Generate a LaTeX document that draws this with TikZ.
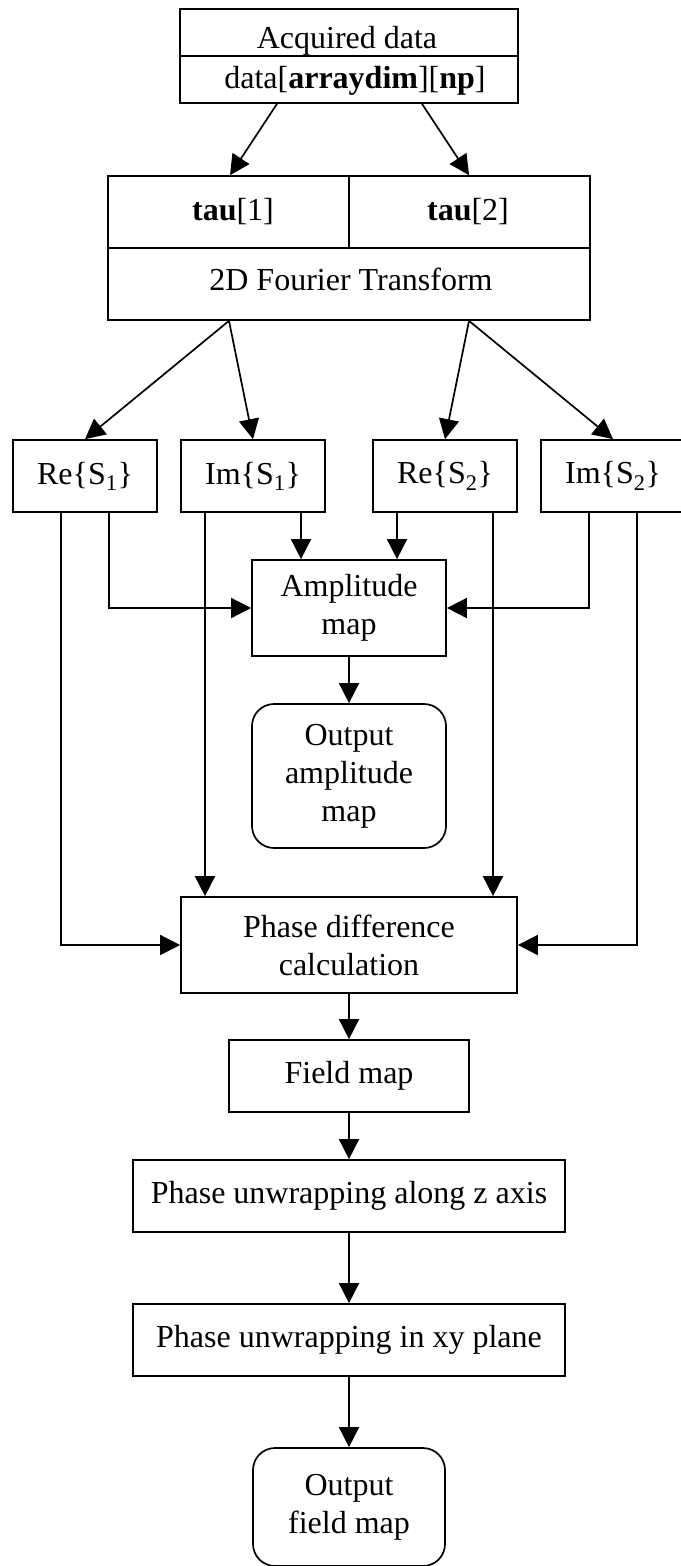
\documentclass[tikz,border=0pt]{standalone}
\usepackage{fontspec}
\setmainfont{Liberation Serif}
\usetikzlibrary{arrows.meta,calc}
\begin{document}
\begin{tikzpicture}[x=1pt,y=-1pt,
  line width=1.7pt,
  conn/.style={-{Triangle[length=20pt,width=20pt]}},
  box/.style={draw, rectangle, inner sep=0pt, align=center,
    font=\fontsize{32}{38}\selectfont},
  term/.style={box, rounded corners=22pt},
  lbl/.style={inner sep=0pt, font=\fontsize{32}{38}\selectfont}]
\useasboundingbox (0,0) rectangle (680,1566);

% header: acquired data
\node[box, minimum width=338pt, minimum height=94pt] (acq) at (349,56) {};
\draw (acq.west) -- (acq.east);
\node[lbl, anchor=base] (acqt) at (347,48) {Acquired data};
\node[lbl, anchor=base] (acqd) at (355,88) {data[\textbf{arraydim}][\textbf{np}]};

% echo times and transform
\node[box, minimum width=482pt, minimum height=144pt] (tau) at (349,248) {};
\draw (tau.west) -- (tau.east);
\draw (tau.north) -- (tau.center);
\node[lbl, anchor=base] (tau1) at (233,220) {\textbf{tau}[1]};
\node[lbl, anchor=base] (tau2) at (468,220) {\textbf{tau}[2]};
\node[lbl, anchor=base] (fft) at (351,290) {2D Fourier Transform};

\draw[conn] ([xshift=-72pt]acq.south) -- ([xshift=-119pt]tau.north);
\draw[conn] ([xshift=73pt]acq.south) -- ([xshift=120pt]tau.north);

% real and imaginary parts
\node[box, minimum width=144pt, minimum height=72pt] (re1) at (85,476) {Re\{S\textsubscript{1}\}};
\node[box, minimum width=144pt, minimum height=72pt] (im1) at (253,476) {Im\{S\textsubscript{1}\}};
\node[box, minimum width=144pt, minimum height=72pt] (re2) at (445,476) {Re\{S\textsubscript{2}\}};
\node[box, minimum width=144pt, minimum height=72pt] (im2) at (613,476) {Im\{S\textsubscript{2}\}};

\draw[conn] ([xshift=-120pt]tau.south) -- (re1.north);
\draw[conn] ([xshift=-120pt]tau.south) -- (im1.north);
\draw[conn] ([xshift=120pt]tau.south) -- (re2.north);
\draw[conn] ([xshift=120pt]tau.south) -- (im2.north);

% amplitude branch
\node[box, minimum width=194pt, minimum height=96pt] (amp) at (349,608) {Amplitude\\map};
\node[term, minimum width=194pt, minimum height=144pt] (outamp) at (349,776) {Output\\amplitude\\map};

\draw[conn] ([xshift=24pt]re1.south) |- (amp.west);
\draw[conn] ([xshift=48pt]im1.south) -- ([xshift=48pt]im1.south |- amp.north);
\draw[conn] ([xshift=-48pt]re2.south) -- ([xshift=-48pt]re2.south |- amp.north);
\draw[conn] ([xshift=-24pt]im2.south) |- (amp.east);
\draw[conn] (amp.south) -- (outamp.north);

% phase branch
\node[box, minimum width=336pt, minimum height=96pt] (phase) at (349,945) {Phase difference\\calculation};

\draw[conn] ([xshift=-24pt]re1.south) |- (phase.west);
\draw[conn] ([xshift=-48pt]im1.south) -- ([xshift=-48pt]im1.south |- phase.north);
\draw[conn] ([xshift=48pt]re2.south) -- ([xshift=48pt]re2.south |- phase.north);
\draw[conn] ([xshift=24pt]im2.south) |- (phase.east);

% unwrapping chain
\node[box, minimum width=240pt, minimum height=72pt] (field) at (349,1076) {Field map};
\node[box, minimum width=432pt, minimum height=72pt] (puz) at (349,1196) {Phase unwrapping along z axis};
\node[box, minimum width=432pt, minimum height=72pt] (puxy) at (349,1340) {Phase unwrapping in xy plane};
\node[term, minimum width=192pt, minimum height=118pt] (outf) at (349,1507) {Output\\field map};

\draw[conn] (phase.south) -- (field.north);
\draw[conn] (field.south) -- (puz.north);
\draw[conn] (puz.south) -- (puxy.north);
\draw[conn] (puxy.south) -- (outf.north);
\end{tikzpicture}
\end{document}
